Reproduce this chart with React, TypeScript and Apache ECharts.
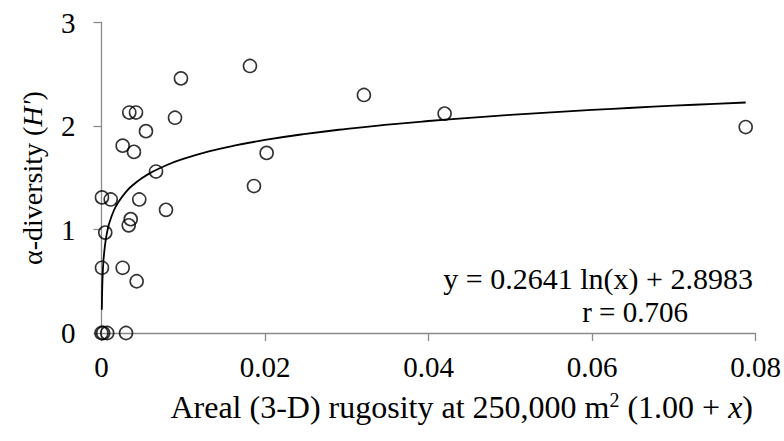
import React, { useEffect, useRef } from "react";
import * as echarts from "echarts";

// Observed points: rugosity x (1.00 + x) and alpha diversity H'
const rugosityX = [
  0.0, 0.0002, 0.0007, 0.003,
  0.00006, 0.00259, 0.0043,
  0.00046, 0.00333, 0.00357,
  0.00006, 0.00113, 0.00462, 0.00789,
  0.01865, 0.00667, 0.0202,
  0.00397, 0.00259, 0.00544,
  0.00899, 0.0034, 0.00422,
  0.00972, 0.01816, 0.0321, 0.04197, 0.0788,
];
const diversityH = [
  0, 0, 0, 0,
  0.63, 0.63, 0.5,
  0.97, 1.04, 1.1,
  1.31, 1.29, 1.29, 1.19,
  1.42, 1.56, 1.74,
  1.75, 1.81, 1.95,
  2.08, 2.13, 2.13,
  2.46, 2.58, 2.3, 2.12, 1.99,
];

// Fitted logarithmic trend as printed in the chart
const fitSlope = 0.2641;
const fitIntercept = 2.8983;
const fitXs = [
  0.00004, 0.00006, 0.0001, 0.00015, 0.0002, 0.0003, 0.0005, 0.0007, 0.001,
  0.0015, 0.002, 0.003, 0.004, 0.005, 0.006, 0.008, 0.01, 0.013, 0.016, 0.02,
  0.025, 0.03, 0.035, 0.04, 0.045, 0.05, 0.055, 0.06, 0.065, 0.07, 0.075, 0.0788,
];

const xTicks = { min: 0, max: 0.08, interval: 0.02 };
const yTicks = { min: 0, max: 3, interval: 1 };

const FONT = "'Liberation Serif', 'Times New Roman', serif";
const AXIS_GRAY = "#8a8a8a";

export default function App() {
  const ref = useRef<HTMLDivElement>(null);

  useEffect(() => {
    if (!ref.current) return;
    const chart = echarts.init(ref.current, undefined, { renderer: "svg" });

    const scatterData = rugosityX.map((x, i) => [x, diversityH[i]]);
    const fitData = fitXs.map((x) => [x, fitSlope * Math.log(x) + fitIntercept]);

    chart.setOption({
      animation: false,
      backgroundColor: "#ffffff",
      grid: { left: 101.5, right: 28.5, top: 22.5, bottom: 108, containLabel: false },
      xAxis: {
        type: "value",
        min: xTicks.min,
        max: xTicks.max,
        interval: xTicks.interval,
        axisLine: { show: true, lineStyle: { color: AXIS_GRAY, width: 1.3 } },
        axisTick: { show: true, length: 8, lineStyle: { color: AXIS_GRAY, width: 1.3 } },
        splitLine: { show: false },
        axisLabel: {
          color: "#000",
          fontFamily: FONT,
          fontSize: 29,
          margin: 19,
          formatter: (v: number) => (v === 0 ? "0" : v.toFixed(2)),
        },
      },
      yAxis: {
        type: "value",
        min: yTicks.min,
        max: yTicks.max,
        interval: yTicks.interval,
        axisLine: { show: true, lineStyle: { color: AXIS_GRAY, width: 1.3 } },
        axisTick: { show: true, length: 8, lineStyle: { color: AXIS_GRAY, width: 1.3 } },
        splitLine: { show: false },
        axisLabel: {
          color: "#000",
          fontFamily: FONT,
          fontSize: 29,
          margin: 26,
        },
      },
      series: [
        {
          type: "scatter",
          data: scatterData,
          symbol: "circle",
          symbolSize: 13,
          itemStyle: { color: "rgba(255,255,255,0)", borderColor: "#000", borderWidth: 1.6 },
          z: 2,
        },
        {
          type: "line",
          data: fitData,
          smooth: true,
          showSymbol: false,
          symbol: "none",
          lineStyle: { color: "#000", width: 1.8 },
          z: 3,
        },
      ],
      graphic: [
        {
          type: "text",
          x: 32,
          y: 178,
          rotation: Math.PI / 2,
          style: {
            text: "{n|α-diversity (}{i|H'}{n|)}",
            align: "center",
            verticalAlign: "middle",
            rich: {
              n: { fontFamily: FONT, fontSize: 28, fill: "#000" },
              i: { fontFamily: FONT, fontSize: 28, fontStyle: "italic", fill: "#000" },
            },
          },
        },
        {
          type: "text",
          x: 753,
          y: 407,
          style: {
            text: "{n|Areal (3-D) rugosity at 250,000 m}{s|2}{n| (1.00 + }{i|x}{n|)}",
            align: "right",
            verticalAlign: "middle",
            rich: {
              n: { fontFamily: FONT, fontSize: 32, fill: "#000", lineHeight: 34 },
              i: { fontFamily: FONT, fontSize: 32, fontStyle: "italic", fill: "#000", lineHeight: 34 },
              s: { fontFamily: FONT, fontSize: 20, fill: "#000", verticalAlign: "top", lineHeight: 34, padding: [0, 0, 10, 0] },
            },
          },
        },
        {
          type: "text",
          x: 753,
          y: 278,
          style: {
            text: "y = 0.2641 ln(x) + 2.8983",
            align: "right",
            verticalAlign: "middle",
            fontFamily: FONT,
            fontSize: 30,
            fill: "#000",
          },
        },
        {
          type: "text",
          x: 635,
          y: 312,
          style: {
            text: "r = 0.706",
            align: "center",
            verticalAlign: "middle",
            fontFamily: FONT,
            fontSize: 29,
            fill: "#000",
          },
        },
      ],
    });

    return () => chart.dispose();
  }, []);

  return <div ref={ref} style={{ width: 784, height: 441, position: "absolute", left: 0, top: 0 }} />;
}
